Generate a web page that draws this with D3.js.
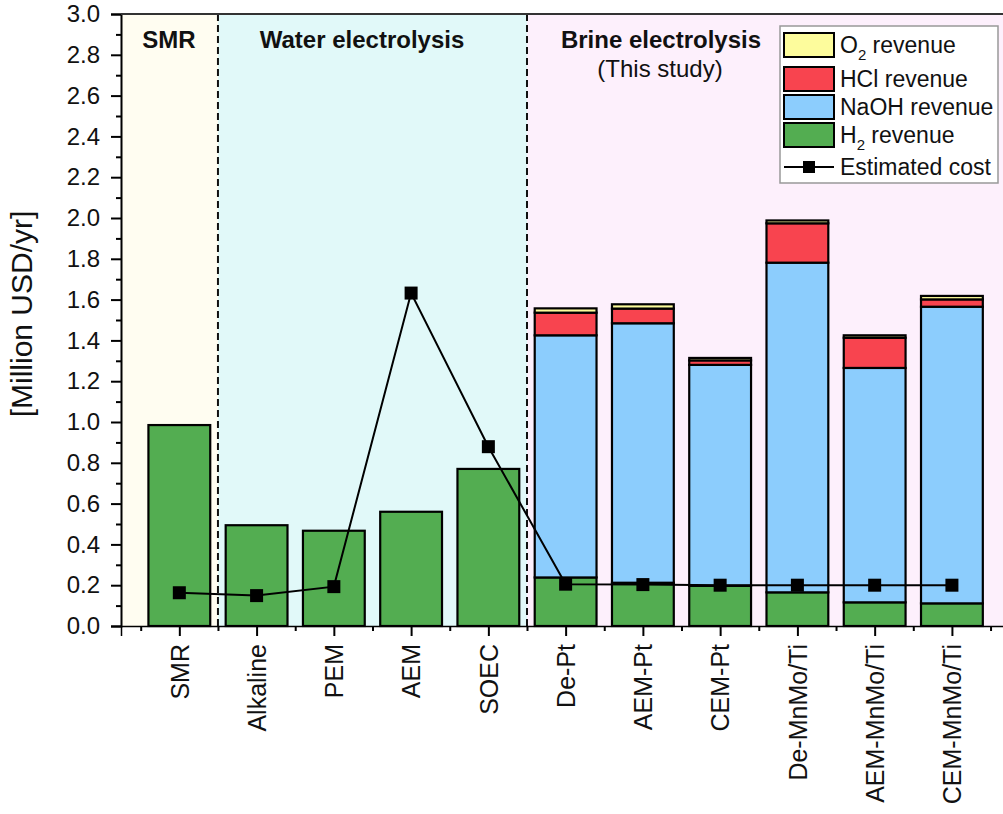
<!DOCTYPE html>
<html>
<head>
<meta charset="utf-8">
<script src="https://cdn.jsdelivr.net/npm/d3@7"></script>
<style>
  html, body { margin: 0; padding: 0; background: #ffffff; }
  svg { display: block; font-family: "Liberation Sans", Arial, sans-serif; }
</style>
</head>
<body>
<svg id="chart" width="1003" height="814"></svg>
<script>
// Revenue components and estimated cost per technology (Million USD/yr)
const categories = ["SMR", "Alkaline", "PEM", "AEM", "SOEC", "De-Pt", "AEM-Pt", "CEM-Pt", "De-MnMo/Ti", "AEM-MnMo/Ti", "CEM-MnMo/Ti"];
const h2Revenue   = [0.985, 0.494, 0.467, 0.560, 0.770, 0.238, 0.212, 0.197, 0.165, 0.116, 0.111];
const naohRevenue = [0, 0, 0, 0, 0, 1.187, 1.272, 1.083, 1.616, 1.149, 1.454];
const hclRevenue  = [0, 0, 0, 0, 0, 0.111, 0.072, 0.022, 0.193, 0.148, 0.036];
const o2Revenue   = [0, 0, 0, 0, 0, 0.021, 0.021, 0.012, 0.014, 0.012, 0.017];
const estimatedCost = [0.163, 0.149, 0.193, 1.632, 0.879, 0.205, 0.203, 0.200, 0.200, 0.200, 0.200];
const yTickValues = [0, 0.2, 0.4, 0.6, 0.8, 1.0, 1.2, 1.4, 1.6, 1.8, 2.0, 2.2, 2.4, 2.6, 2.8, 3.0];

// Process groups shaded behind the bars (category position ranges)
const groups = [
  { name: "SMR", from: 0.245, to: 1.5, fill: "#fffdf1" },
  { name: "Water electrolysis", from: 1.5, to: 5.5, fill: "#e1f9f9" },
  { name: "Brine electrolysis", from: 5.5, to: 11.7, fill: "#fdf0fc" }
];

const colors = { o2: "#fdfc9c", hcl: "#f8444f", naoh: "#8ccdfd", h2: "#53ad51" };

const svg = d3.select("#chart");
const x = d3.scaleLinear().domain([0.245, 11.7]).range([121, 1006]);
const y = d3.scaleLinear().domain([0, 3.0]).range([626, 14]);
const barW = x(1.8) - x(1);

// Group backgrounds
svg.append("g").selectAll("rect").data(groups).join("rect")
  .attr("x", d => x(d.from)).attr("y", y(3))
  .attr("width", d => x(d.to) - x(d.from)).attr("height", y(0) - y(3))
  .attr("fill", d => d.fill);

// Dashed separators between groups
svg.append("g").selectAll("line").data([1.5, 5.5]).join("line")
  .attr("x1", d => x(d)).attr("x2", d => x(d))
  .attr("y1", y(3)).attr("y2", y(0))
  .attr("stroke", "#111").attr("stroke-width", 2).attr("stroke-dasharray", "7,4");

// Stacked bars
const table = categories.map((c, i) => ({
  idx: i + 1, h2: h2Revenue[i], naoh: naohRevenue[i], hcl: hclRevenue[i], o2: o2Revenue[i]
}));
const keys = ["h2", "naoh", "hcl", "o2"];
const stacked = d3.stack().keys(keys)(table);

svg.append("g").selectAll("g").data(stacked).join("g")
  .attr("fill", s => colors[s.key])
  .selectAll("rect").data(s => s.filter(d => d[1] - d[0] > 0)).join("rect")
  .attr("x", d => x(d.data.idx) - barW / 2)
  .attr("y", d => y(d[1]))
  .attr("width", barW)
  .attr("height", d => y(d[0]) - y(d[1]))
  .attr("stroke", "#000").attr("stroke-width", 2.2);

// Estimated cost line with square markers
const costPts = estimatedCost.map((v, i) => [i + 1, v]);
svg.append("path").datum(costPts)
  .attr("d", d3.line().x(d => x(d[0])).y(d => y(d[1])))
  .attr("fill", "none").attr("stroke", "#000").attr("stroke-width", 2);
svg.append("g").selectAll("rect").data(costPts).join("rect")
  .attr("x", d => x(d[0]) - 6.5).attr("y", d => y(d[1]) - 6.5)
  .attr("width", 13).attr("height", 13).attr("fill", "#000");

// Y axis
const yAxis = svg.append("g").attr("transform", `translate(${x(0.245)},0)`)
  .call(d3.axisLeft(y).tickValues(yTickValues).tickFormat(d3.format(".1f")).tickSize(10).tickPadding(11));
yAxis.select(".domain").attr("stroke-width", 2);
yAxis.selectAll(".tick line").attr("stroke-width", 2);
yAxis.selectAll("text").attr("font-size", 24).attr("fill", "#111");
svg.append("g").attr("transform", `translate(${x(0.245)},0)`)
  .call(d3.axisLeft(y).tickValues(d3.range(1, 30, 2).map(v => v / 10)).tickSize(5).tickFormat(""))
  .call(g => g.select(".domain").remove())
  .selectAll(".tick line").attr("stroke-width", 2);

// Top frame
svg.append("line").attr("x1", x(0.245)).attr("x2", 1003).attr("y1", y(3)).attr("y2", y(3))
  .attr("stroke", "#333").attr("stroke-width", 2);

// X axis
const xAxis = svg.append("g").attr("transform", `translate(0,${y(0)})`)
  .call(d3.axisBottom(x).tickValues(d3.range(1, 12)).tickFormat(d => categories[d - 1]).tickSize(10).tickPadding(8));
xAxis.select(".domain").attr("stroke-width", 1.5);
xAxis.selectAll(".tick line").attr("stroke-width", 2);
xAxis.selectAll("text")
  .attr("font-size", 25).attr("fill", "#111")
  .attr("transform", "rotate(-90)")
  .attr("text-anchor", "end")
  .attr("x", -18).attr("y", 0).attr("dy", "0.35em");
svg.append("g").attr("transform", `translate(0,${y(0)})`)
  .call(d3.axisBottom(x).tickValues(d3.range(0.5, 12, 1).filter(v => v > 0.245)).tickSize(5).tickFormat(""))
  .call(g => g.select(".domain").remove())
  .selectAll(".tick line").attr("stroke-width", 2);

// Y axis title
svg.append("text")
  .attr("transform", `translate(32,314) rotate(-90)`)
  .attr("text-anchor", "middle")
  .attr("font-size", 30).attr("fill", "#111")
  .text("[Million USD/yr]");

// Group titles
const titles = [
  { t: "SMR", cx: 169, y: 48, bold: true },
  { t: "Water electrolysis", cx: 362, y: 48, bold: true },
  { t: "Brine electrolysis", cx: 661, y: 48, bold: true },
  { t: "(This study)", cx: 660, y: 77, bold: false }
];
svg.append("g").selectAll("text").data(titles).join("text")
  .attr("x", d => d.cx).attr("y", d => d.y)
  .attr("text-anchor", "middle")
  .attr("font-size", 24)
  .attr("font-weight", d => d.bold ? "bold" : "normal")
  .attr("fill", "#111")
  .text(d => d.t);

// Legend
const legend = svg.append("g");
legend.append("rect").attr("x", 780).attr("y", 26).attr("width", 218).attr("height", 157)
  .attr("fill", "#fff").attr("stroke", "#999").attr("stroke-width", 1.5);
const legendItems = [
  { key: "o2", y: 33, label: ["O", "2", " revenue"] },
  { key: "hcl", y: 67, label: ["HCl revenue"] },
  { key: "naoh", y: 95, label: ["NaOH revenue"] },
  { key: "h2", y: 123, label: ["H", "2", " revenue"] }
];
legendItems.forEach(it => {
  legend.append("rect").attr("x", 784).attr("y", it.y).attr("width", 50).attr("height", 24)
    .attr("fill", colors[it.key]).attr("stroke", "#000").attr("stroke-width", 2);
  const t = legend.append("text").attr("x", 840).attr("y", it.y + 20)
    .attr("font-size", 23).attr("fill", "#111");
  if (it.label.length === 1) {
    t.text(it.label[0]);
  } else {
    t.append("tspan").text(it.label[0]);
    t.append("tspan").attr("font-size", 15).attr("dy", 7).text(it.label[1]);
    t.append("tspan").attr("dy", -7).text(it.label[2]);
  }
});
legend.append("line").attr("x1", 784).attr("x2", 834).attr("y1", 167).attr("y2", 167)
  .attr("stroke", "#000").attr("stroke-width", 2);
legend.append("rect").attr("x", 803).attr("y", 161).attr("width", 12).attr("height", 12).attr("fill", "#000");
legend.append("text").attr("x", 840).attr("y", 175).attr("font-size", 23).attr("fill", "#111").text("Estimated cost");
</script>
</body>
</html>
